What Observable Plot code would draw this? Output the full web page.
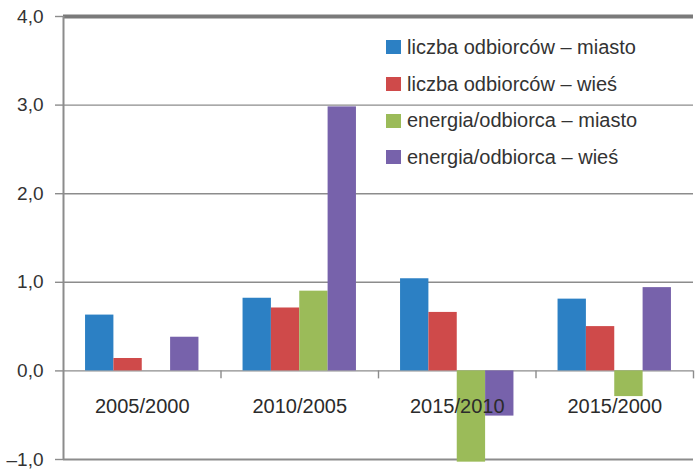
<!DOCTYPE html>
<html>
<head>
<meta charset="utf-8">
<script src="https://cdn.jsdelivr.net/npm/d3@7"></script>
<script src="https://cdn.jsdelivr.net/npm/@observablehq/plot@0.6"></script>
<style>
  body { margin: 0; background: #fff; font-family: "Liberation Sans", Arial, sans-serif; }
  #wrap { position: relative; width: 700px; height: 470px; }
  #legend { position: absolute; left: 386px; top: 29px; font-size: 20px; color: #333; }
  #legend .row { display: flex; align-items: center; height: 36.7px; white-space: nowrap; }
  #legend .sw { width: 15px; height: 14px; margin-right: 6px; flex: none; }
</style>
</head>
<body>
<div id="wrap"></div>
<script>
// Periods compared (x groups)
const periods = ["2005/2000", "2010/2005", "2015/2010", "2015/2000"];

// Series names, in legend order
const seriesNames = [
  "liczba odbiorców – miasto",
  "liczba odbiorców – wieś",
  "energia/odbiorca – miasto",
  "energia/odbiorca – wieś"
];
const seriesColors = ["#2c80c4", "#cf4a4a", "#9bbb59", "#7762ab"];

// Values per series, one per period
const liczbaMiasto  = [0.63, 0.82, 1.04, 0.81];
const liczbaWies    = [0.14, 0.71, 0.66, 0.50];
const energiaMiasto = [0.00, 0.90, -1.03, -0.29];
const energiaWies   = [0.38, 2.98, -0.51, 0.94];

// Y axis ticks
const yTicks = [-1, 0, 1, 2, 3, 4];

const seriesValues = [liczbaMiasto, liczbaWies, energiaMiasto, energiaWies];

// Long table: one row per bar, with its group index and slot within the group
const barShare = 0.18;                                   // share of a group taken by one bar
const groupPad = (1 - seriesNames.length * barShare) / 2;
const rows = [];
periods.forEach((p, g) => {
  seriesNames.forEach((s, k) => {
    rows.push({period: p, series: s, value: seriesValues[k][g], g, k});
  });
});

const fmt = d => (d < 0 ? "–" : "") + Math.abs(d).toFixed(1).replace(".", ",");

const chart = Plot.plot({
  width: 700,
  height: 470,
  marginLeft: 63,
  marginRight: 7,
  marginTop: 16,
  marginBottom: 11,
  style: {fontFamily: "'Liberation Sans', Arial, sans-serif", color: "#333", background: "#fff"},
  x: {type: "linear", domain: [0, periods.length], axis: null},
  y: {domain: [-1, 4], axis: null},
  color: {domain: seriesNames, range: seriesColors},
  marks: [
    // horizontal gridlines; the top and bottom ones are heavier
    Plot.ruleY(yTicks, {
      stroke: d => d === 4 ? "#7a7a7a" : "#8c8c8c",
      strokeWidth: d => d === 4 ? 4 : d === -1 ? 2 : 1.4
    }),
    // bars
    Plot.rect(rows, {
      x1: d => d.g + groupPad + d.k * barShare,
      x2: d => d.g + groupPad + (d.k + 1) * barShare,
      y1: 0,
      y2: "value",
      fill: "series"
    }),
    // group separators below the zero line
    Plot.ruleX(d3.range(1, periods.length + 1), {y1: 0, y2: -0.09, stroke: "#8c8c8c", strokeWidth: 1.4}),
    // vertical axis line
    Plot.ruleX([0], {y1: -1, y2: 4, stroke: "#8c8c8c", strokeWidth: 2}),
    Plot.axisY(yTicks, {
      label: null,
      tickSize: 8,
      tickPadding: 12,
      tickFormat: fmt,
      fontSize: 19,
      stroke: "#8c8c8c",
      strokeWidth: 1.4,
      fill: "#333"
    }),
    // period labels, just under the zero line
    Plot.text(periods, {
      x: (d, i) => i + 0.5,
      y: 0,
      dy: 36,
      text: d => d,
      fontSize: 20,
      fill: "#2b2b2b"
    })
  ]
});

const wrap = document.getElementById("wrap");
wrap.appendChild(chart);

// legend drawn from the chart's colour scale
const color = chart.scale("color");
const legend = d3.select(wrap).append("div").attr("id", "legend");
color.domain.forEach((name, i) => {
  const row = legend.append("div").attr("class", "row");
  row.append("div").attr("class", "sw").style("background", color.range[i]);
  row.append("span").text(name);
});
</script>
</body>
</html>
